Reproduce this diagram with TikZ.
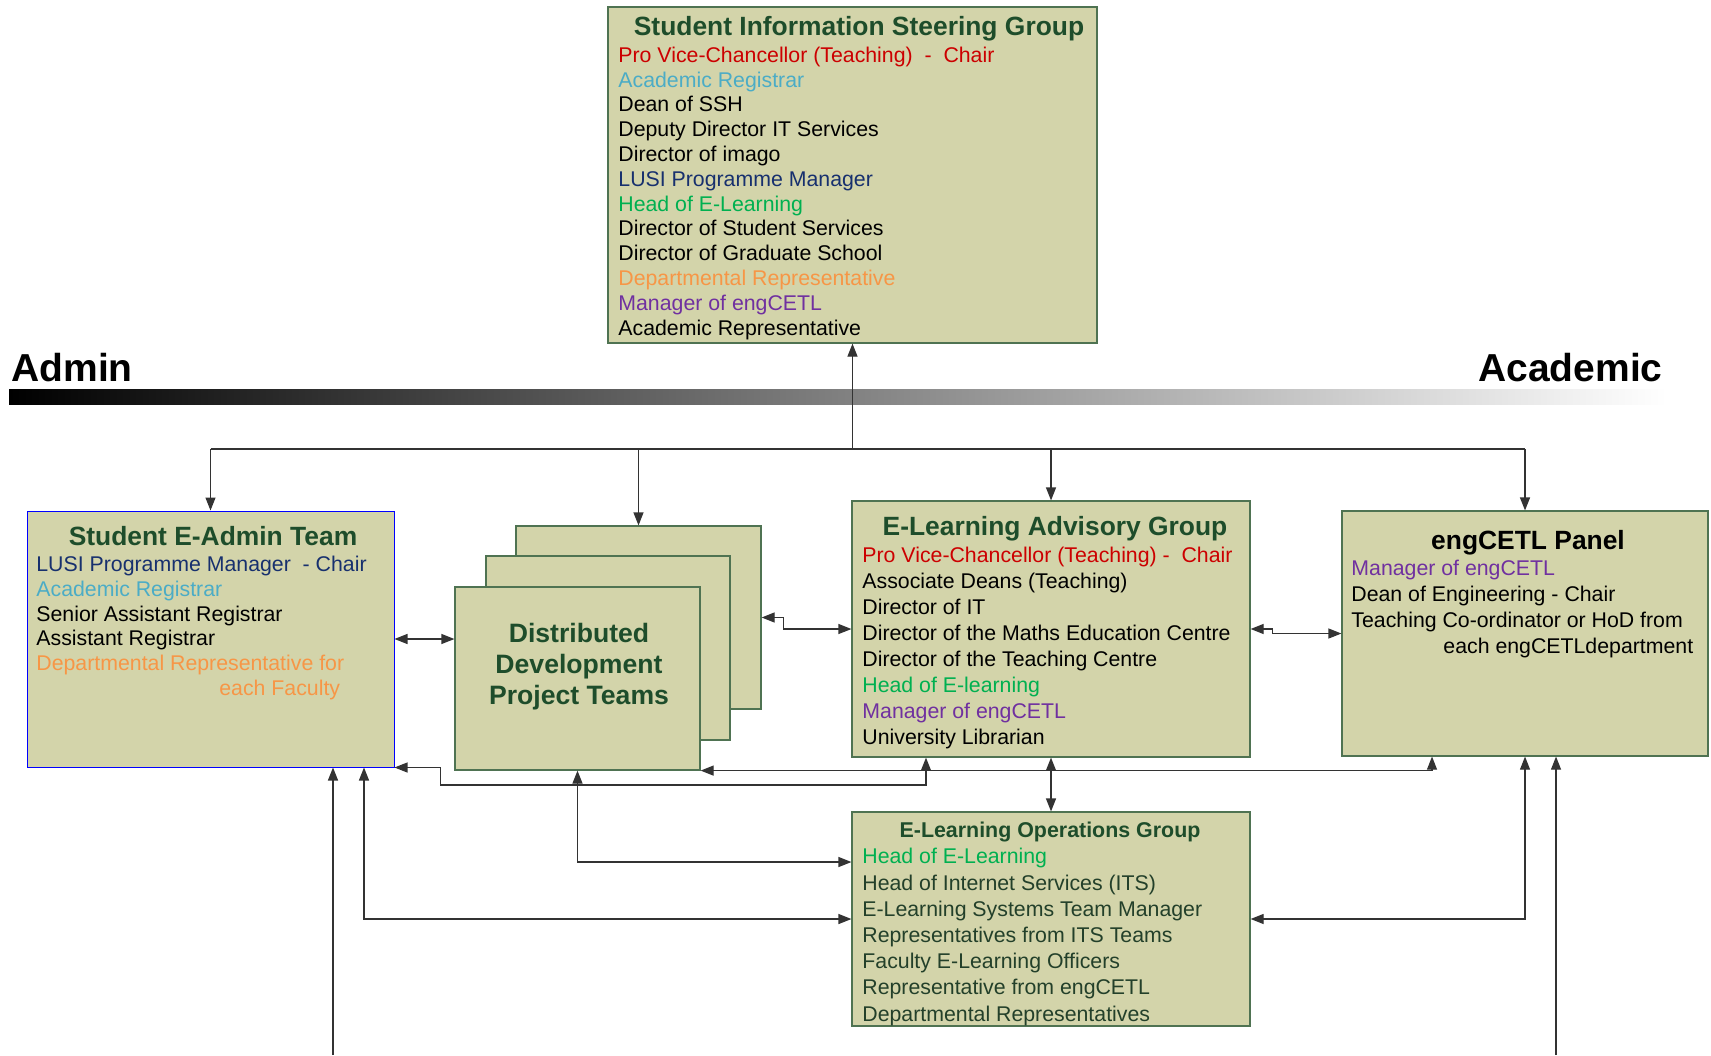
\documentclass[tikz,border=0pt]{standalone}
\usepackage{fontspec}
\setmainfont{Liberation Sans}
\usetikzlibrary{arrows.meta,calc}

\definecolor{khaki}{HTML}{D3D4AA}
\definecolor{boxline}{HTML}{4F7352}
\definecolor{ttlgreen}{HTML}{1E4D2B}
\definecolor{opsgreen}{HTML}{23402A}
\definecolor{pvcred}{HTML}{CC0000}
\definecolor{regblue}{HTML}{4BACC6}
\definecolor{lusiblue}{HTML}{17306E}
\definecolor{elgreen}{HTML}{00B050}
\definecolor{deporange}{HTML}{F79646}
\definecolor{engpurple}{HTML}{7030A0}
\definecolor{linegray}{HTML}{333333}

\tikzset{box/.style={draw=boxline,fill=khaki,line width=0.6pt,inner sep=0pt}}
\tikzset{ttl/.style={font=\fontsize{13.2}{15.5}\selectfont\bfseries,text=ttlgreen,align=center,inner sep=0pt}}
\tikzset{txt/.style={font=\fontsize{10.65}{12.4}\selectfont,align=left,inner sep=0pt,anchor=north west}}
\tikzset{arr/.style={draw=linegray,line width=0.6pt,-{Triangle[length=6.5pt,width=5pt]}}}
\tikzset{arr2/.style={draw=linegray,line width=0.6pt,{Triangle[length=6.5pt,width=5pt]}-{Triangle[length=6.5pt,width=5pt]}}}

\begin{document}
\begin{tikzpicture}[x=0.5pt,y=-0.5pt]
  \useasboundingbox (0,0) rectangle (1711,1055);

  % admin / academic scale
  \shade[left color=black,right color=white] (9,389) rectangle (1667,404);
  \node[anchor=base west,inner sep=0pt,font=\fontsize{19.5}{23}\selectfont\bfseries] (admin) at (11,381) {Admin};
  \node[anchor=base east,inner sep=0pt,font=\fontsize{19.5}{23}\selectfont\bfseries] (acad) at (1663,381) {Academic};

  % steering group
  \node[box,minimum width=244.5pt,minimum height=168pt] (sisg) at (852.5,175) {};
  \node[ttl] (sisg-t) at (859,29) {Student Information Steering Group};
  \node[txt] (sisg-b) at (618,46.5) {\textcolor{pvcred}{Pro Vice-Chancellor (Teaching)\ \ -\ \ Chair}\\
    \textcolor{regblue}{Academic Registrar}\\
    Dean of SSH\\
    Deputy Director IT Services\\
    Director of imago\\
    \textcolor{lusiblue}{LUSI Programme Manager}\\
    \textcolor{elgreen}{Head of E-Learning}\\
    Director of Student Services\\
    Director of Graduate School\\
    \textcolor{deporange}{Departmental Representative}\\
    \textcolor{engpurple}{Manager of engCETL}\\
    Academic Representative};

  % student e-admin team
  \node[box,draw=blue,line width=0.5pt,minimum width=183.5pt,minimum height=128pt] (seat) at (210.5,639) {};
  \node[ttl] (seat-t) at (213,536) {Student E-Admin Team};
  \node[txt,font=\fontsize{10.65}{12.35}\selectfont] (seat-b) at (36,556) {\textcolor{lusiblue}{LUSI Programme Manager\ \ - Chair}\\
    \textcolor{regblue}{Academic Registrar}\\
    Senior Assistant Registrar\\
    Assistant Registrar\\
    \textcolor{deporange}{Departmental Representative for}\\
    \hspace*{91.5pt}\textcolor{deporange}{each Faculty}};

  % project teams (stacked)
  \node[box,minimum width=122.5pt,minimum height=91.5pt] (ddp3) at (638.5,617.5) {};
  \node[box,minimum width=122pt,minimum height=92pt] (ddp2) at (608,648) {};
  \node[box,minimum width=122.5pt,minimum height=91.5pt] (ddp1) at (577.5,678.5) {};
  \node[ttl,font=\fontsize{13.3}{15.5}\selectfont\bfseries] (ddp-t) at (579,667) {Distributed\\Development\\Project Teams};

  % e-learning advisory group
  \node[box,minimum width=199pt,minimum height=128pt] (elag) at (1051,629) {};
  \node[ttl] (elag-t) at (1055,529) {E-Learning Advisory Group};
  \node[txt,font=\fontsize{10.65}{12.95}\selectfont] (elag-b) at (862,547) {\textcolor{pvcred}{Pro Vice-Chancellor (Teaching) -\ \ Chair}\\
    Associate Deans (Teaching)\\
    Director of IT\\
    Director of the Maths Education Centre\\
    Director of the Teaching Centre\\
    \textcolor{elgreen}{Head of E-learning}\\
    \textcolor{engpurple}{Manager of engCETL}\\
    University Librarian};

  % engcetl panel
  \node[box,minimum width=183pt,minimum height=122.5pt] (eng) at (1525,633.5) {};
  \node[ttl,text=black] (eng-t) at (1528,543) {engCETL Panel};
  \node[txt,font=\fontsize{10.65}{13}\selectfont] (eng-b) at (1351,560) {\textcolor{engpurple}{Manager of engCETL}\\
    Dean of Engineering - Chair\\
    Teaching Co-ordinator or HoD from\\
    \hspace*{46pt}each engCETLdepartment};

  % e-learning operations group
  \node[box,minimum width=199pt,minimum height=107pt] (elog) at (1051,919) {};
  \node[ttl,font=\fontsize{10.7}{13}\selectfont\bfseries] (elog-t) at (1050,832) {E-Learning Operations Group};
  \node[txt,font=\fontsize{10.65}{13.1}\selectfont,text=opsgreen] (elog-b) at (862,848) {\textcolor{elgreen}{Head of E-Learning}\\
    Head of Internet Services (ITS)\\
    E-Learning Systems Team Manager\\
    Representatives from ITS Teams\\
    Faculty E-Learning Officers\\
    Representative from engCETL\\
    Departmental Representatives};

  % links to the steering group
  \coordinate (hub) at (852.5,449);
  \draw[arr] (hub) -- (sisg.south);
  \draw[draw=linegray,line width=0.6pt] (hub -| seat.north) -- (hub -| eng.north);
  \draw[arr] (hub -| seat.north) -- (seat.north);
  \draw[arr] (hub -| ddp3.north) -- (ddp3.north);
  \draw[arr] (hub -| elag.north) -- (elag.north);
  \draw[arr] (hub -| eng.north) -- (eng.north);

  % links between the groups
  \draw[arr2] (seat.east) -- (seat.east -| ddp1.west);
  \draw[arr2] (ddp3.east) -- ++(22,0) |- (elag.west);
  \draw[arr2] (elag.east) -- ++(22,0) |- (eng.west);
  \coordinate (b1) at (926,785);
  \draw[arr2] (seat.south east) -- ++(46,0) |- (b1) -- (b1 |- elag.south);
  \draw[arr2] (ddp1.south east) -| ([xshift=-46.5pt]eng.south);
  \draw[arr2] (elag.south) -- (elog.north);
  \draw[arr2] (ddp1.south) |- ([yshift=28.5pt]elog.west);
  \draw[arr2] ([xshift=76.75pt]seat.south) |- (elog.west);
  \draw[arr2] (eng.south) |- (elog.east);

  % incoming from below
  \coordinate (in1) at (333,1055);
  \coordinate (in2) at (1556,1055);
  \draw[arr] (in1) -- (in1 |- seat.south);
  \draw[arr] (in2) -- (in2 |- eng.south);
\end{tikzpicture}
\end{document}
